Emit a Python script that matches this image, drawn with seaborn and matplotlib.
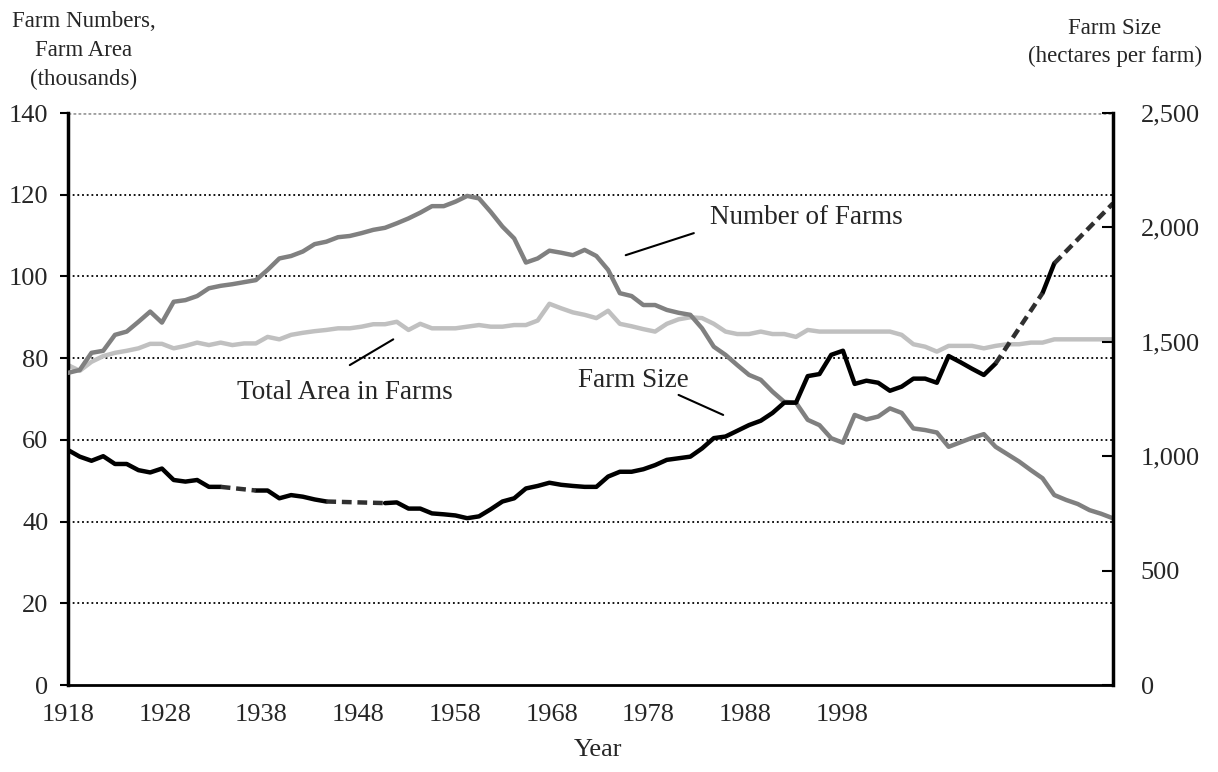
import numpy as np
import pandas as pd
import matplotlib
matplotlib.use("Agg")
import matplotlib.pyplot as plt
import seaborn as sns

# annual series, 1918-2007
years = list(range(1918, 2008))

farm_numbers = [
    76.4, 77.1, 81.3, 81.8, 85.7, 86.5, 88.9, 91.4, 88.7, 93.8,      # 1918-27
    94.2, 95.2, 97.1, 97.7, 98.1, 98.6, 99.1, 101.6, 104.4, 105.0,   # 1928-37
    106.1, 107.9, 108.5, 109.6, 109.9, 110.6, 111.4, 111.9, 113.0, 114.2,  # 1938-47
    115.6, 117.2, 117.2, 118.3, 119.7, 119.1, 115.8, 112.2, 109.3, 103.4,  # 1948-57
    104.4, 106.3, 105.8, 105.2, 106.5, 105.0, 101.6, 95.9, 95.2, 93.0,     # 1958-67
    93.0, 91.8, 91.1, 90.6, 87.3, 82.8, 80.8, 78.3, 75.9, 74.7,      # 1968-77
    71.8, 69.3, 69.1, 64.9, 63.6, 60.4, 59.3, 66.1, 65.0, 65.7,      # 1978-87
    67.7, 66.6, 62.8, 62.4, 61.8, 58.3, 59.4, 60.5, 61.4, 58.3,      # 1988-97
    56.5, 54.7, 52.6, 50.6, 46.5, 45.3, 44.3, 42.8, 41.9, 40.8,      # 1998-2007
]

farm_area = [
    78.3, 76.9, 79.1, 80.5, 81.3, 81.8, 82.4, 83.5, 83.5, 82.4,
    83.0, 83.8, 83.2, 83.8, 83.2, 83.6, 83.6, 85.2, 84.6, 85.7,
    86.2, 86.6, 86.9, 87.3, 87.3, 87.7, 88.3, 88.3, 88.9, 86.9,
    88.4, 87.3, 87.3, 87.3, 87.7, 88.1, 87.7, 87.7, 88.1, 88.1,
    89.2, 93.3, 92.2, 91.2, 90.6, 89.8, 91.6, 88.4, 87.8, 87.1,
    86.5, 88.4, 89.5, 90.0, 89.8, 88.4, 86.5, 85.9, 85.9, 86.5,
    85.9, 85.9, 85.2, 86.9, 86.5, 86.5, 86.5, 86.5, 86.5, 86.5,
    86.5, 85.7, 83.4, 82.8, 81.6, 83.0, 83.0, 83.0, 82.4, 83.0,
    83.4, 83.4, 83.8, 83.8, 84.6, 84.6, 84.6, 84.6, 84.6, 84.6,
]

nan = np.nan
# hectares per farm; gaps are bridged with dashes
farm_size = [
    1027, 998, 980, 1000, 966, 966, 939, 929, 946, 896,
    889, 896, 866, 866, nan, nan, 850, 850, 816, 830,
    823, 811, 802, nan, nan, nan, nan, 795, 798, 771,
    771, 750, 746, 741, 729, 737, 768, 802, 816, 859,
    870, 884, 875, 870, 866, 866, 911, 932, 932, 943,
    961, 984, 991, 998, 1034, 1079, 1086, 1111, 1136, 1155,
    1189, 1234, 1234, 1350, 1359, 1443, 1461, 1316, 1330, 1321,
    1286, 1304, 1339, 1339, 1321, 1438, 1411, 1382, 1355, 1405,
    nan, nan, nan, 1713, 1843, nan, nan, nan, nan, nan,
]
size_proj_years = [2002, 2007]
size_proj = [1843, 2105]

# the source's year scale runs 1918-2026 across the same width as the 90 points
tick_labels = ["1918", "1928", "1938", "1948", "1958", "1968", "1978", "1988", "1998"]
axis_span_years = 108

df = pd.DataFrame({"year": years, "farms": farm_numbers,
                   "area": farm_area, "size": farm_size})

sns.set_theme(style="white")
plt.rcParams["font.family"] = ["Liberation Serif", "DejaVu Serif"]

fig = plt.figure(figsize=(12.18, 7.72), dpi=100)
ax = fig.add_axes([68 / 1218, 87 / 772, 1045 / 1218, 572 / 772])
ax2 = ax.twinx()

# gridlines
for v in range(20, 121, 20):
    ax.axhline(v, color="black", lw=1.3, ls=(0, (1, 1.6)), zorder=1)
ax.axhline(140, color="#a0a0a0", lw=2, ls=(0, (1, 0.8)), zorder=1)

sns.lineplot(data=df, x="year", y="farms", ax=ax, color="#808080", lw=3.2, zorder=3)
sns.lineplot(data=df, x="year", y="area", ax=ax, color="#c0c0c0", lw=3.2, zorder=2)

# farm size: solid runs, dashed bridges over missing years
fs = df[["year", "size"]].dropna()
run_id = (fs["year"].diff() != 1).cumsum()
prev = None
for _, seg in fs.groupby(run_id):
    sns.lineplot(data=seg, x="year", y="size", ax=ax2, color="black", lw=3.2)
    if prev is not None:
        bridge = pd.DataFrame({"year": [prev["year"].iloc[-1], seg["year"].iloc[0]],
                               "size": [prev["size"].iloc[-1], seg["size"].iloc[0]]})
        sns.lineplot(data=bridge, x="year", y="size", ax=ax2, color="#303030",
                     lw=3.2, linestyle=(0, (2.2, 1.3)))
    prev = seg
sns.lineplot(x=size_proj_years, y=size_proj, ax=ax2, color="#303030",
             lw=3.2, linestyle=(0, (2.2, 1.3)))

x0, x1 = years[0], years[-1]
ax.set_xlim(x0, x1)
ax.set_ylim(0, 140)
ax2.set_ylim(0, 2500)
step = 10 * (x1 - x0) / axis_span_years
ax.set_xticks([x0 + i * step for i in range(len(tick_labels))])
ax.set_xticklabels(tick_labels)
ax.set_yticks(range(0, 141, 20))
ax2.set_yticks(range(0, 2501, 500))
ax2.set_yticklabels([f"{v:,}" for v in range(0, 2501, 500)])
ax.set_xlabel("")
ax.set_ylabel("")
ax2.set_ylabel("")

for s in ["top", "right"]:
    ax.spines[s].set_visible(False)
for s in ["top", "left", "bottom"]:
    ax2.spines[s].set_visible(False)
ax.spines["left"].set_linewidth(2.5)
ax.spines["left"].set_color("black")
ax.spines["bottom"].set_linewidth(2)
ax.spines["bottom"].set_color("black")
ax2.spines["right"].set_linewidth(2.5)
ax2.spines["right"].set_color("black")

ax.tick_params(axis="y", direction="out", length=6, width=1.5, color="black",
               labelsize=19, pad=8, left=True)
ax.tick_params(axis="x", direction="out", length=0, labelsize=19, pad=14, bottom=True)
ax2.tick_params(axis="y", direction="in", length=8, width=1.5, color="black",
                labelsize=19, pad=20, right=True)

# series labels with pointer lines
ax.text(1972.7, 114.5, "Number of Farms", fontsize=19.5, va="center", ha="left")
ax.plot([1965.5, 1971.3], [105.2, 110.6], color="black", lw=1.5)
ax.text(1932.4, 71.5, "Total Area in Farms", fontsize=19.5, va="center", ha="left")
ax.plot([1942.0, 1945.7], [78.3, 84.6], color="black", lw=1.5)
ax.text(1961.4, 74.6, "Farm Size", fontsize=19.5, va="center", ha="left")
ax.plot([1970.0, 1973.8], [71.0, 66.1], color="black", lw=1.5)

fig.text(84 / 1218, 1 - 11 / 772, "Farm Numbers,\nFarm Area\n(thousands)",
         ha="center", va="top", fontsize=16.5, linespacing=1.5)
fig.text(1115 / 1218, 1 - 18 / 772, "Farm Size\n(hectares per farm)",
         ha="center", va="top", fontsize=16.5, linespacing=1.4)
fig.text(598 / 1218, 1 - 750 / 772, "Year", ha="center", va="center", fontsize=19)

fig.savefig("out.png", dpi=100)
